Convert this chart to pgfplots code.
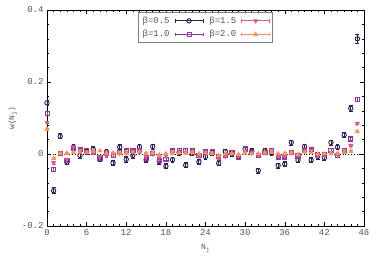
\documentclass[border=0pt]{standalone}
\usepackage{fontspec}
\setmainfont{Liberation Mono}
\setmonofont{Liberation Mono}
\usepackage{pgfplots}
\pgfplotsset{compat=1.18}
\usepackage{pgfplotstable}
\definecolor{cA}{HTML}{2A1E52}
\definecolor{cB}{HTML}{8E3A9A}
\definecolor{cC}{HTML}{D45A95}
\definecolor{cD}{HTML}{F8935F}
\definecolor{txt}{HTML}{555555}

\pgfplotstableread{
N v e
0 0.142 0.008
1 -0.102 0.008
2 0.049 0.007
3 -0.023 0.007
4 0.019 0.007
5 -0.004 0.007
6 0.007 0.007
7 0.013 0.007
8 -0.014 0.007
9 0.006 0.007
10 -0.025 0.007
11 0.019 0.007
12 -0.015 0.007
13 -0.004 0.007
14 0.020 0.007
15 -0.016 0.007
16 0.021 0.007
17 -0.021 0.007
18 -0.034 0.007
19 -0.016 0.007
20 0.004 0.007
21 -0.031 0.007
22 0.002 0.007
23 -0.022 0.007
24 -0.007 0.007
25 0.003 0.007
26 -0.026 0.007
27 0.007 0.007
28 0.001 0.007
29 -0.008 0.007
30 0.015 0.007
31 0.008 0.007
32 -0.046 0.007
33 0.009 0.007
34 0.003 0.007
35 -0.032 0.007
36 -0.028 0.007
37 0.032 0.007
38 -0.017 0.007
39 0.021 0.007
40 -0.017 0.007
41 -0.007 0.007
42 -0.011 0.007
43 0.032 0.007
44 0.019 0.007
45 0.053 0.007
46 0.127 0.008
47 0.320 0.012
}\tA

\pgfplotstableread{
N v e
0 0.113 0.005
1 -0.042 0.005
2 0.001 0.004
3 -0.017 0.004
4 0.017 0.004
5 0.013 0.004
6 0.009 0.004
7 0.005 0.004
8 -0.011 0.004
9 0.003 0.004
10 -0.004 0.004
11 0.005 0.004
12 0.009 0.004
13 0.009 0.004
14 0.010 0.004
15 -0.011 0.004
16 0.001 0.004
17 -0.017 0.004
18 -0.014 0.004
19 0.009 0.004
20 0.011 0.004
21 0.011 0.004
22 0.009 0.004
23 -0.004 0.004
24 0.007 0.004
25 0.007 0.004
26 -0.007 0.004
27 -0.004 0.004
28 0.005 0.004
29 -0.009 0.004
30 0.014 0.004
31 0.004 0.004
32 -0.004 0.004
33 0.005 0.004
34 0.011 0.004
35 -0.009 0.004
36 -0.009 0.004
37 0.004 0.004
38 -0.005 0.004
39 0.010 0.004
40 0.012 0.004
41 -0.002 0.004
42 0.000 0.004
43 0.011 0.004
44 -0.004 0.004
45 0.011 0.004
46 0.042 0.005
47 0.152 0.006
}\tB

\pgfplotstableread{
N v e
0 0.088 0.004
1 -0.024 0.004
2 0.001 0.003
3 -0.016 0.003
4 0.019 0.003
5 0.008 0.003
6 0.006 0.003
7 0.004 0.003
8 -0.008 0.003
9 -0.005 0.003
10 0.002 0.003
11 0.002 0.003
12 0.004 0.003
13 0.006 0.003
14 0.006 0.003
15 -0.008 0.003
16 0.000 0.003
17 -0.011 0.003
18 -0.005 0.003
19 0.004 0.003
20 0.005 0.003
21 0.005 0.003
22 0.006 0.003
23 -0.006 0.003
24 0.004 0.003
25 0.003 0.003
26 -0.012 0.003
27 -0.007 0.003
28 0.002 0.003
29 -0.006 0.003
30 0.007 0.003
31 0.002 0.003
32 -0.003 0.003
33 0.004 0.003
34 0.008 0.003
35 -0.006 0.003
36 -0.005 0.003
37 0.003 0.003
38 -0.004 0.003
39 0.008 0.003
40 0.010 0.003
41 -0.004 0.003
42 -0.002 0.003
43 0.004 0.003
44 -0.002 0.003
45 0.008 0.003
46 0.023 0.003
47 0.085 0.004
}\tC

\pgfplotstableread{
N v e
0 0.069 0.003
1 -0.012 0.003
2 0.002 0.002
3 0.002 0.002
4 0.005 0.002
5 0.005 0.002
6 0.004 0.002
7 0.008 0.002
8 0.009 0.002
9 0.003 0.002
10 0.003 0.002
11 0.001 0.002
12 0.002 0.002
13 0.005 0.002
14 0.007 0.002
15 0.002 0.002
16 0.003 0.002
17 -0.002 0.002
18 0.001 0.002
19 0.002 0.002
20 0.003 0.002
21 0.002 0.002
22 0.005 0.002
23 0.001 0.002
24 0.003 0.002
25 0.002 0.002
26 -0.004 0.002
27 0.001 0.002
28 0.002 0.002
29 -0.001 0.002
30 0.003 0.002
31 0.001 0.002
32 0.001 0.002
33 0.003 0.002
34 0.005 0.002
35 0.001 0.002
36 0.002 0.002
37 0.003 0.002
38 -0.001 0.002
39 0.006 0.002
40 0.004 0.002
41 0.000 0.002
42 0.001 0.002
43 0.001 0.002
44 0.002 0.002
45 0.005 0.002
46 0.007 0.002
47 0.062 0.003
}\tD

\begin{document}
\begin{tikzpicture}
\begin{axis}[
  scale only axis,
  width=317bp, height=216bp,
  xmin=0, xmax=48, ymin=-0.2, ymax=0.4,
  xtick={0,6,...,48},
  ytick={-0.2,0,0.2,0.4},
  minor x tick num=5,
  minor y tick num=4,
  major tick length=4bp,
  minor tick length=2bp,
  axis line style={black, line width=0.8pt},
  tick style={black, line width=0.5pt},
  /pgf/number format/assume math mode=true,
  ticklabel style={font=\fontsize{9}{10}\selectfont, text=txt},
  xlabel={N\textsubscript{j}},
  ylabel={w(N\textsubscript{j})},
  label style={font=\fontsize{8}{9}\selectfont, text=txt},
  xlabel style={yshift=-2bp},
  ylabel style={yshift=-2bp},
  legend plot pos=right,
  transpose legend,
  legend columns=2,
  legend style={at={(0.287,0.99)}, anchor=north west, draw=gray, line width=0.6pt, fill=white,
    font=\fontsize{9}{11}\selectfont, text=txt, inner sep=2.4pt,
    /tikz/every odd column/.append style={column sep=3bp},
    /tikz/every even column/.append style={column sep=4bp},
    row sep=1.5bp},
  legend image code/.code={
    \draw[#1, sharp plot, mark repeat=2, mark phase=2] plot coordinates {(0bp,0bp) (14bp,0bp) (28bp,0bp)};
    \draw[#1, sharp plot, mark=none] (0bp,-1.8pt) -- (0bp,1.8pt) (28bp,-1.8pt) -- (28bp,1.8pt);
  },
  error bars/y dir=both,
  error bars/y explicit,
]
\addplot[black, dotted, line width=0.8pt, forget plot] coordinates {(0,0) (48,0)};
\addplot[only marks, color=cA, line width=0.9pt, mark=o, mark size=2.2bp,
  error bars/error bar style={line width=0.8pt},
  error bars/error mark options={rotate=90, mark size=1.9bp, line width=0.8pt}]
  table[x=N, y=v, y error=e] {\tA};
\addlegendentry{β=0.5}
\addplot[only marks, color=cB, line width=0.8pt, mark=square, mark size=2.1bp,
  error bars/error bar style={line width=0.7pt},
  error bars/error mark options={rotate=90, mark size=1.9bp, line width=0.7pt}]
  table[x=N, y=v, y error=e] {\tB};
\addlegendentry{β=1.0}
\addplot[only marks, color=cC, line width=0.7pt, mark=triangle*, mark size=2.3bp, mark options={rotate=180},
  error bars/error bar style={line width=0.7pt},
  error bars/error mark options={rotate=90, mark size=1.9bp, line width=0.7pt}]
  table[x=N, y=v, y error=e] {\tC};
\addlegendentry{β=1.5}
\addplot[only marks, color=cD, line width=0.7pt, mark=triangle*, mark size=2.3bp,
  error bars/error bar style={line width=0.7pt},
  error bars/error mark options={rotate=90, mark size=1.9bp, line width=0.7pt}]
  table[x=N, y=v, y error=e] {\tD};
\addlegendentry{β=2.0}
\end{axis}
\pgfresetboundingbox
\path ([shift={(-47bp,-41bp)}]current axis.south west) rectangle ([shift={(18bp,10bp)}]current axis.north east);
\end{tikzpicture}
\end{document}
